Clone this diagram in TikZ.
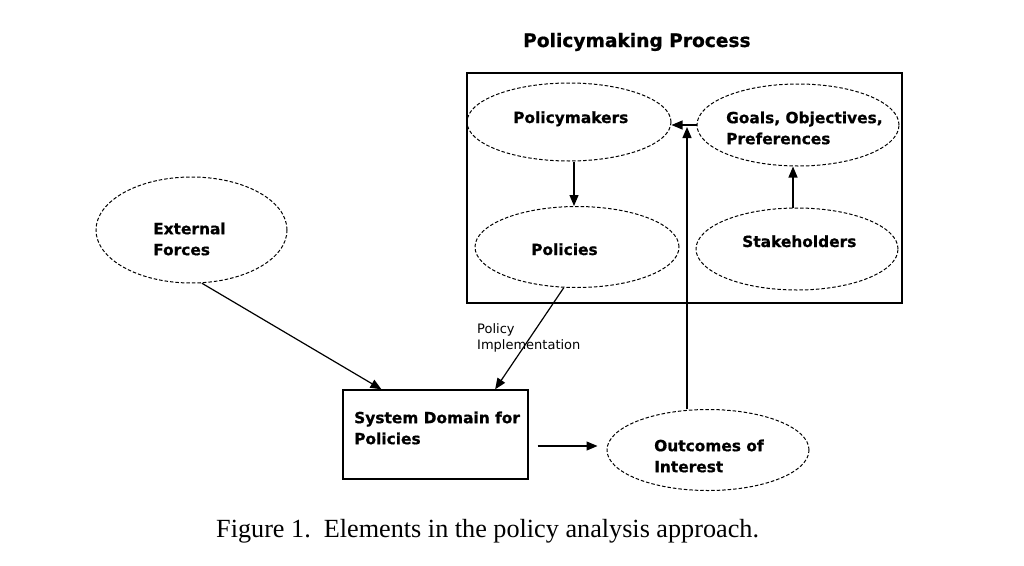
\documentclass[tikz,border=0pt]{standalone}
\usepackage{fontspec}
\setmainfont{Liberation Serif}
\newfontfamily\vfont{DejaVu Sans}[BoldFeatures={FakeBold=0.8}]
\usetikzlibrary{shapes.geometric,arrows.meta,calc}
\begin{document}
\begin{tikzpicture}[x=1pt,y=-1pt,
  ell/.style={ellipse,draw,dash pattern=on 3.5pt off 2pt,line width=1pt,inner sep=0pt},
  box/.style={rectangle,draw,line width=1.4pt,inner sep=0pt},
  lbl/.style={inner sep=0pt,font=\vfont\bfseries\fontsize{15.4}{21}\selectfont,align=left},
  small/.style={inner sep=0pt,font=\vfont\fontsize{13}{16}\selectfont,align=left},
  arr/.style={-{Triangle[length=11pt,width=9pt]},line width=1.2pt}]
\useasboundingbox[fill=white] (0,0) rectangle (1024,565);

% title and frame
\node[inner sep=0pt,anchor=base west,font=\vfont\bfseries\fontsize{18.6}{22}\selectfont] (title) at (523,47) {Policymaking Process};
\node[box,minimum width=435pt,minimum height=230pt] (frame) at (684.5,188) {};

% ellipses
\node[ell,minimum width=204pt,minimum height=78pt] (pm) at (569,122) {};
\node[ell,minimum width=202pt,minimum height=82pt] (goals) at (798,125) {};
\node[ell,minimum width=204pt,minimum height=81pt] (pol) at (577,247) {};
\node[ell,minimum width=202pt,minimum height=82pt] (stk) at (797,249) {};
\node[ell,minimum width=191pt,minimum height=106pt] (ef) at (191.5,230) {};
\node[ell,minimum width=202pt,minimum height=81pt] (out) at (708,450) {};
\node[box,minimum width=185pt,minimum height=89pt] (sys) at (435.5,434.5) {};

% texts
\node[lbl,anchor=base west] (tpm) at (513,123) {Policymakers};
\node[lbl,anchor=north west] (tgoals) at (726,111.3) {Goals, Objectives,\\Preferences};
\node[lbl,anchor=base west] (tpol) at (531,255) {Policies};
\node[lbl,anchor=base west] (tstk) at (742,247) {Stakeholders};
\node[lbl,anchor=north west] (tef) at (153,222.3) {External\\Forces};
\node[lbl,anchor=north west] (tsys) at (354,411.3) {System Domain for\\Policies};
\node[lbl,anchor=north west] (tout) at (654,439.3) {Outcomes of\\Interest};
\node[small,anchor=north west] (timp) at (477,323.1) {Policy\\Implementation};

% caption
\node[inner sep=0pt,anchor=base west,font=\fontsize{26.2}{30}\selectfont] (cap) at (216,537) {Figure 1.\ \ Elements in the policy analysis approach.};

% connectors
\coordinate (vx1) at (574,0);
\coordinate (vx2) at (793,0);
\coordinate (uptop) at (687,127);
\coordinate (ay) at (0,446);
\draw[arr] (vx1 |- pm.south) -- (vx1 |- pol.north);
\draw[arr] (vx2 |- stk.north) -- (vx2 |- goals.south);
\draw[arr] (goals.west) -- (goals.west -| pm.east);
\draw[arr] (out.north -| uptop) -- (uptop);
\draw[arr] (ef.-79) -- ($(sys.north west)!0.21!(sys.north east)$);
\draw[arr] (pol.-108) -- ($(sys.north west)!0.82!(sys.north east)$);
\draw[arr,shorten <=9pt,shorten >=9pt] (sys.east |- ay) -- (out.west |- ay);
\end{tikzpicture}
\end{document}
